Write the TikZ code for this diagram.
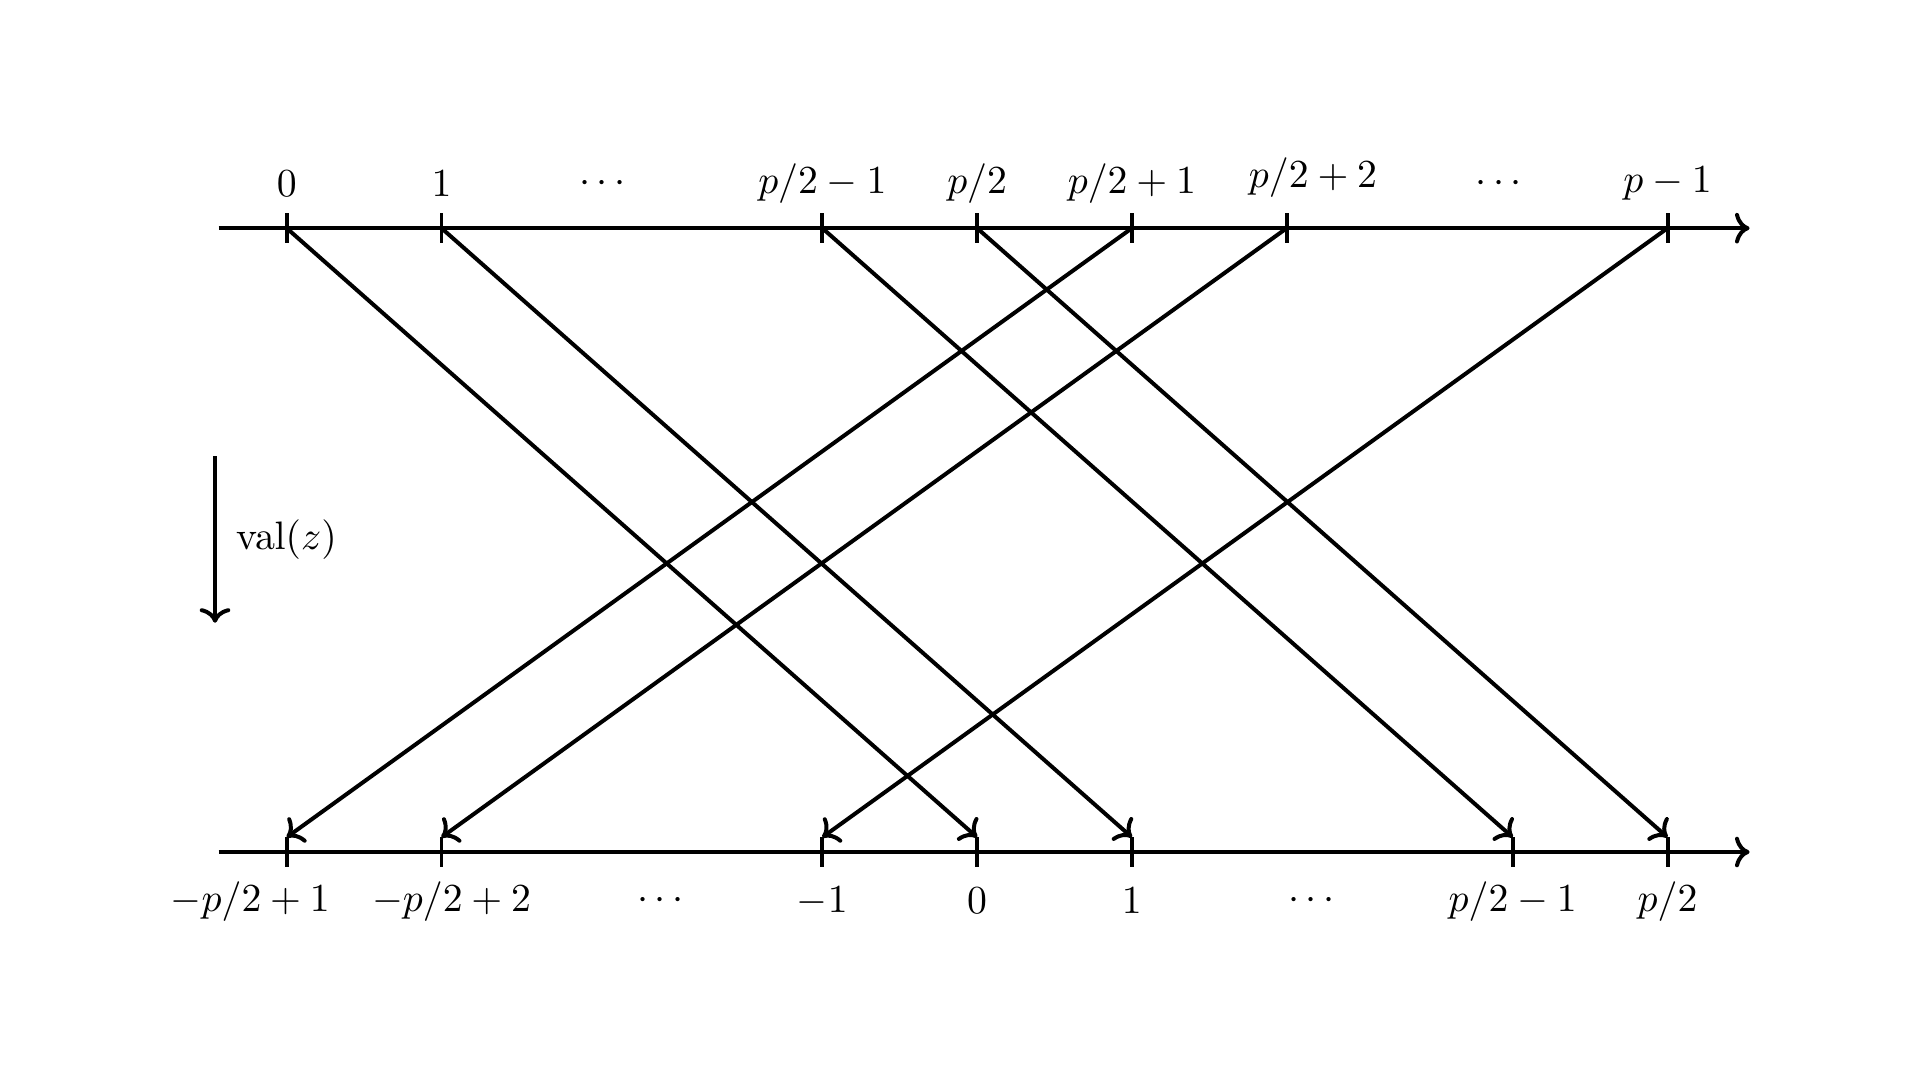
\documentclass[tikz,border=0pt,11pt]{standalone}
\usepackage{amsmath}
\usepackage{amssymb}
\usepackage{tikz}
\usetikzlibrary{arrows,arrows.meta}
\tikzset{every path/.style={line width=1.1pt}}

\begin{document}
\begin{tikzpicture}[x=1.5cm,y=1.5cm]
\useasboundingbox (-1.852,-1.473) rectangle (10.551,5.504);
% axes
\draw[->] (-0.44,4.03) -- (9.45,4.03);
\draw[->] (-0.44,0) -- (9.45,0);
% points on the top axis
\coordinate (top1) at (0,4.03);
\coordinate (top2) at (1,4.03);
\coordinate (top3) at (3.46,4.03);
\coordinate (top4) at (4.46,4.03);
\coordinate (top5) at (5.46,4.03);
\coordinate (top6) at (6.46,4.03);
\coordinate (top7) at (8.92,4.03);
% ends on the bottom axis
\coordinate (bot1) at (0,0.095);
\coordinate (bot2) at (1,0.095);
\coordinate (bot3) at (3.46,0.095);
\coordinate (bot4) at (4.46,0.095);
\coordinate (bot5) at (5.46,0.095);
\coordinate (bot6) at (7.92,0.095);
\coordinate (bot7) at (8.92,0.095);
% ticks
\draw (0,3.935) -- (0,4.125);
\draw (1,3.935) -- (1,4.125);
\draw (3.46,3.935) -- (3.46,4.125);
\draw (4.46,3.935) -- (4.46,4.125);
\draw (5.46,3.935) -- (5.46,4.125);
\draw (6.46,3.935) -- (6.46,4.125);
\draw (8.92,3.935) -- (8.92,4.125);
\draw (0,-0.095) -- (0,0.095);
\draw (1,-0.095) -- (1,0.095);
\draw (3.46,-0.095) -- (3.46,0.095);
\draw (4.46,-0.095) -- (4.46,0.095);
\draw (5.46,-0.095) -- (5.46,0.095);
\draw (7.92,-0.095) -- (7.92,0.095);
\draw (8.92,-0.095) -- (8.92,0.095);
% top labels
\node (ltop1) at (0,4.317) {$0$};
\node (ltop2) at (1,4.317) {$1$};
\node (ldots1) at (2.06,4.317) {$\cdots$};
\node (ltop3) at (3.46,4.317) {$p/2-1$};
\node (ltop4) at (4.46,4.317) {$p/2$};
\node (ltop5) at (5.46,4.317) {$p/2+1$};
\node (ltop6) at (6.63,4.357) {$p/2+2$};
\node (ldots2) at (7.85,4.317) {$\cdots$};
\node (ltop7) at (8.92,4.317) {$p-1$};
% bottom labels
\node (lbot1) at (-0.235,-0.317) {$-p/2+1$};
\node (lbot2) at (1.065,-0.317) {$-p/2+2$};
\node (ldots3) at (2.435,-0.317) {$\cdots$};
\node (lbot3) at (3.46,-0.317) {$-1$};
\node (lbot4) at (4.46,-0.317) {$0$};
\node (lbot5) at (5.46,-0.317) {$1$};
\node (ldots4) at (6.64,-0.317) {$\cdots$};
\node (lbot6) at (7.92,-0.317) {$p/2-1$};
\node (lbot7) at (8.92,-0.317) {$p/2$};
% the maps
\draw[->] (top1) -- (bot4);
\draw[->] (top2) -- (bot5);
\draw[->] (top3) -- (bot6);
\draw[->] (top4) -- (bot7);
\draw[->] (top5) -- (bot1);
\draw[->] (top6) -- (bot2);
\draw[->] (top7) -- (bot3);
% direction
\coordinate (vtop) at (-0.463,2.558);
\coordinate (vbot) at (-0.463,1.481);
\draw[->] (vtop) -- node[right,xshift=1.6pt] (lval) {$\mathrm{val}(z)$} (vbot);
\end{tikzpicture}
\end{document}
